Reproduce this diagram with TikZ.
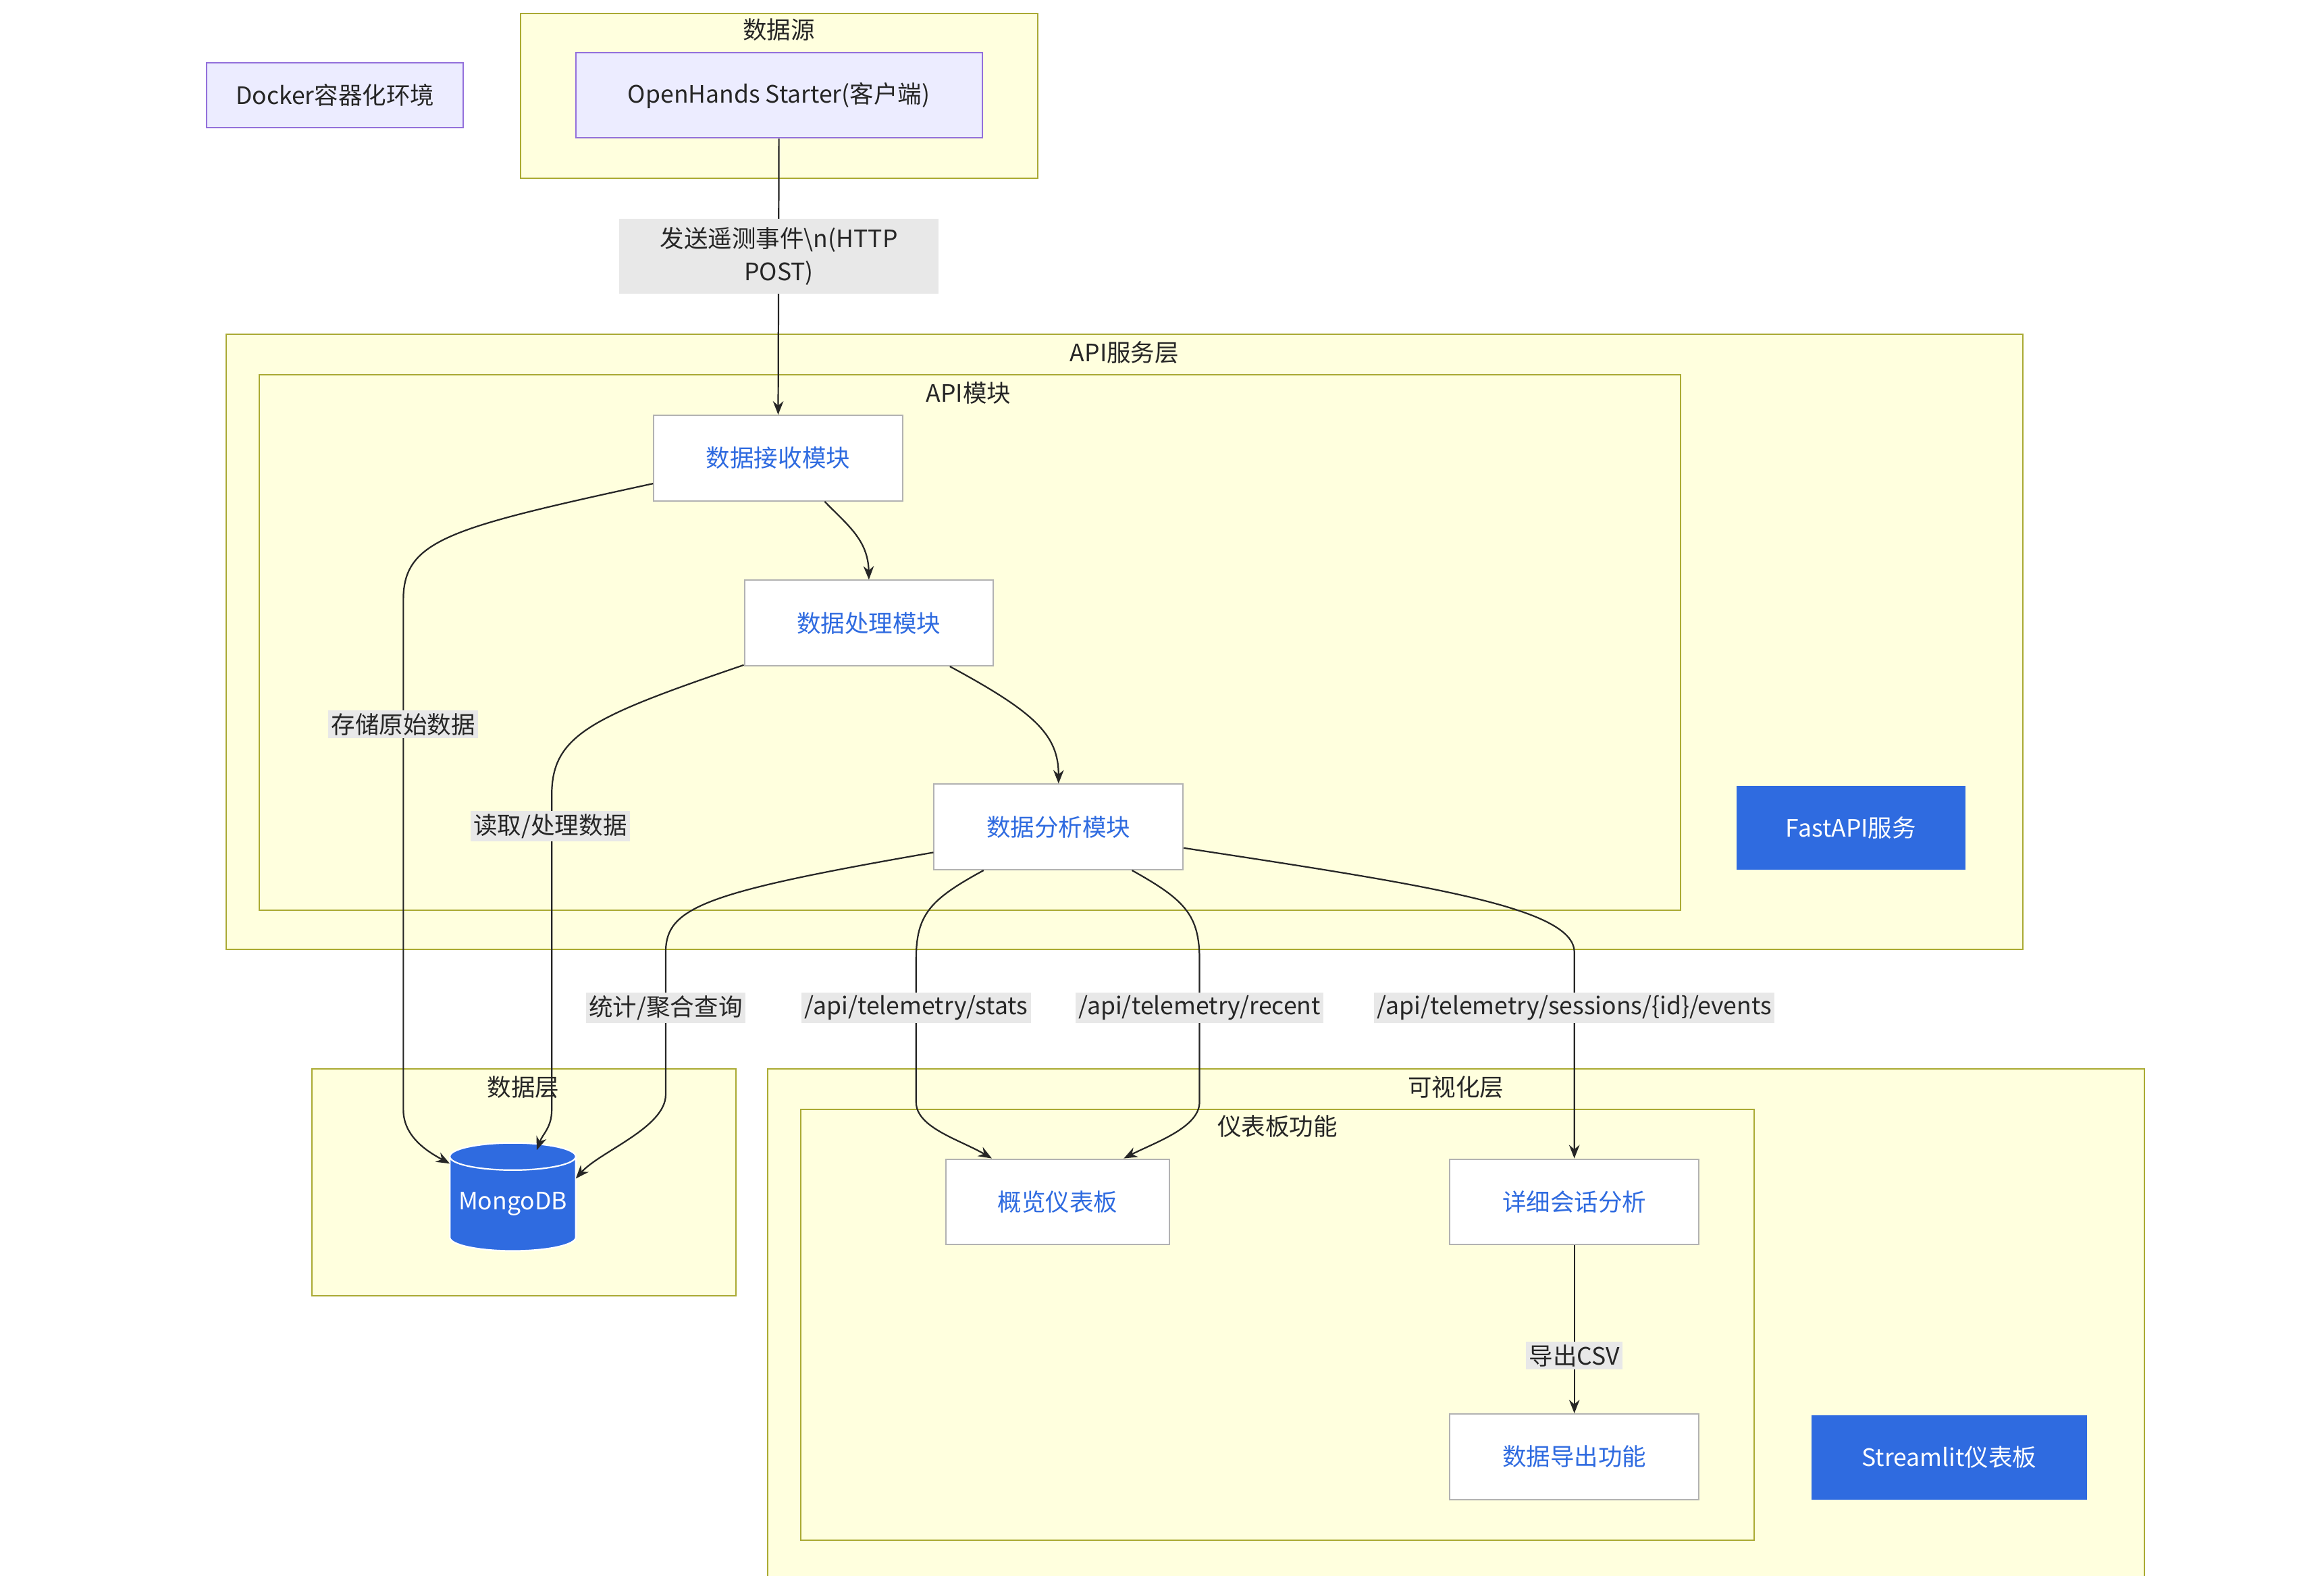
\documentclass[tikz,border=0pt]{standalone}
\usepackage{fontspec}
\setmainfont{Noto Sans CJK SC}
\usetikzlibrary{shapes.geometric,calc,arrows.meta}
\definecolor{clfill}{HTML}{FFFFDE}
\definecolor{clline}{HTML}{AAAA33}
\definecolor{lav}{HTML}{ECECFF}
\definecolor{lavl}{HTML}{9370DB}
\definecolor{blu}{HTML}{2F6BE0}
\definecolor{btext}{HTML}{2F6BE0}
\definecolor{lblbg}{HTML}{E8E8E8}
\begin{document}
\begin{tikzpicture}[x=1pt,y=-1pt,
  font=\fontsize{16}{22}\selectfont,
  cluster/.style={draw=clline,fill=clfill,line width=0.9pt},
  cltitle/.style={text=black!85},
  wbox/.style={draw=black!30,fill=white,line width=0.9pt,text=btext,minimum width=166pt,minimum height=57pt,inner sep=0pt},
  bbox/.style={fill=blu,text=white,minimum height=56pt,inner sep=0pt},
  lbox/.style={draw=lavl,fill=lav,line width=0.9pt,text=black!85,inner sep=0pt},
  edge/.style={draw=black!85,line width=1pt,-{Stealth[length=9pt,width=7pt]}},
  lab/.style={fill=lblbg,text=black!85,inner sep=2pt}]
\useasboundingbox (0,0) rectangle (1550,1051);
% clusters
\node[cluster,minimum width=345pt,minimum height=110pt,inner sep=0pt] (csrc) at (519.5,64) {};
\node[cltitle] at (519.5,20) {数据源};
\node[cluster,minimum width=1198pt,minimum height=410pt,inner sep=0pt] (capi) at (750,428) {};
\node[cltitle] at (750,235) {API服务层};
\node[cluster,minimum width=948pt,minimum height=357pt,inner sep=0pt] (cmod) at (647,428.5) {};
\node[cltitle] at (646,262) {API模块};
\node[cluster,minimum width=283pt,minimum height=151pt,inner sep=0pt] (cdata) at (349.5,788.5) {};
\node[cltitle] at (349,725) {数据层};
\node[cluster,minimum width=918pt,minimum height=341pt,inner sep=0pt] (cvis) at (971,883.5) {};
\node[cltitle] at (971,725) {可视化层};
\node[cluster,minimum width=636pt,minimum height=287pt,inner sep=0pt] (cdash) at (852,883.5) {};
\node[cltitle] at (852,751) {仪表板功能};
% nodes
\node[lbox,minimum width=171pt,minimum height=43pt] (docker) at (223.5,63.5) {Docker容器化环境};
\node[lbox,minimum width=271pt,minimum height=57pt] (src) at (519.5,63.5) {OpenHands Starter(客户端)};
\node[wbox] (rec) at (519,305.5) {数据接收模块};
\node[wbox] (proc) at (579.5,415.5) {数据处理模块};
\node[wbox] (ana) at (706,551.5) {数据分析模块};
\node[bbox,minimum width=153pt] (fast) at (1234.5,552) {FastAPI服务};
\node[cylinder,shape border rotate=90,aspect=0.25,fill=blu,draw=white,line width=1pt,text=white,minimum width=84pt,minimum height=72pt,inner sep=0pt] (db) at (342,803) {\raisebox{-10pt}{MongoDB}};
\node[wbox,minimum width=149pt] (ov) at (705.5,801.5) {概览仪表板};
\node[wbox] (det) at (1050,801.5) {详细会话分析};
\node[wbox] (exp) at (1050,971.5) {数据导出功能};
\node[bbox,minimum width=184pt] (st) at (1300,972) {Streamlit仪表板};
% edges
\draw[edge] (src.south) -- (rec.north);
\draw[edge] ($(rec.south)+(31,0)$) .. controls (565,350) and (579,360) .. (proc.north);
\draw[edge] ($(proc.south)+(54,0)$) .. controls (690,475) and (706,490) .. (ana.north);
\draw[edge] ($(rec.west)+(0,17)$) .. controls (300,352) and (269,360) .. (269,400) -- (269,740) .. controls (269,758) and (285,768) .. ($(db.center)+(-42,-27)$);
\draw[edge] ($(proc.west)+(0,28)$) .. controls (395,478) and (368,490) .. (368,530) -- (368,740) .. controls (368,752) and (362,756) .. ($(db.center)+(16,-36)$);
\draw[edge] ($(ana.west)+(0,17)$) .. controls (470,595) and (444,605) .. (444,635) -- (444,730) .. controls (444,752) and (400,768) .. ($(db.center)+(42,-17)$);
\draw[edge] ($(ana.south)+(-50,0)$) .. controls (620,600) and (611,610) .. (611,640) -- (611,735) .. controls (611,752) and (640,760) .. ($(ov.north)+(-44,0)$);
\draw[edge] ($(ana.south)+(49,0)$) .. controls (790,600) and (800,610) .. (800,640) -- (800,735) .. controls (800,752) and (770,762) .. ($(ov.north)+(44,0)$);
\draw[edge] ($(ana.east)+(0,14)$) .. controls (950,590) and (1050,605) .. (1050,635) -- (det.north);
\draw[edge] (det.south) -- (exp.north);
% labels
\node[lab,minimum width=213pt,minimum height=50pt,align=center] at (519.5,171) {发送遥测事件\textbackslash n(HTTP\\POST)};
\node[lab] at (269,483) {存储原始数据};
\node[lab] at (367,551) {读取/处理数据};
\node[lab] at (444,672) {统计/聚合查询};
\node[lab] at (611,672) {/api/telemetry/stats};
\node[lab] at (800,672) {/api/telemetry/recent};
\node[lab] at (1050,672) {/api/telemetry/sessions/\{id\}/events};
\node[lab] at (1050,904) {导出CSV};
\end{tikzpicture}
\end{document}
